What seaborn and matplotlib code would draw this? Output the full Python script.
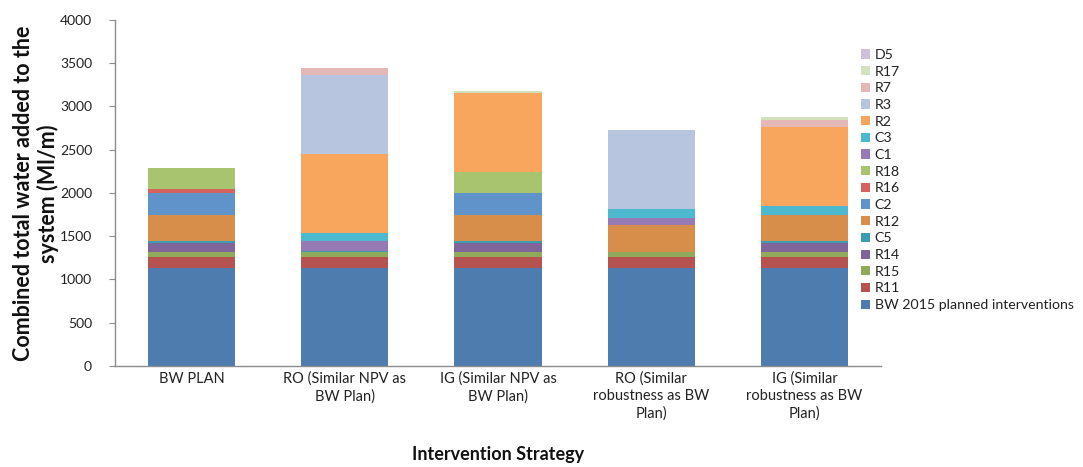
import matplotlib
matplotlib.use("Agg")
import matplotlib.pyplot as plt
from matplotlib.patches import Patch
import numpy as np
import pandas as pd
import seaborn as sns

# Strategies on the x axis
strategies = [
    "BW PLAN",
    "RO (Similar NPV as\nBW Plan)",
    "IG (Similar NPV as\nBW Plan)",
    "RO (Similar\nrobustness as BW\nPlan)",
    "IG (Similar\nrobustness as BW\nPlan)",
]

# Water added by each intervention (Ml/m), one value per strategy
bw_2015 = [1135, 1135, 1135, 1135, 1135]
r11 = [125, 125, 125, 125, 125]
r15 = [60, 60, 60, 60, 60]
r14 = [105, 0, 105, 0, 105]
c5 = [20, 15, 20, 0, 20]
r12 = [305, 0, 305, 310, 305]
c2 = [250, 0, 250, 0, 0]
r16 = [45, 0, 0, 0, 0]
r18 = [245, 0, 245, 0, 0]
c1 = [0, 105, 0, 85, 0]
c3 = [0, 100, 0, 100, 100]
r2 = [0, 910, 915, 0, 910]
r3 = [0, 915, 0, 915, 0]
r7 = [0, 80, 0, 0, 80]
r17 = [0, 0, 15, 0, 35]
d5 = [0, 0, 0, 0, 0]

series_names = ["BW 2015 planned interventions", "R11", "R15", "R14", "C5", "R12",
                "C2", "R16", "R18", "C1", "C3", "R2", "R3", "R7", "R17", "D5"]
series_values = [bw_2015, r11, r15, r14, c5, r12, c2, r16, r18, c1, c3, r2, r3, r7, r17, d5]
series_colors = ["#4E7CAE", "#B65350", "#91A95A", "#80659B", "#3A9DB2", "#D88E4B",
                 "#5F93CA", "#D6625E", "#A9C46F", "#977AB3", "#4DB9CF", "#F8A55D",
                 "#B7C5DF", "#E4B8B7", "#D3E1BC", "#CCC0DA"]

sns.set_theme(style="white")
plt.rcParams["font.family"] = ["Lato", "DejaVu Sans"]

# Long-form table with the running total of every stack level
rows = []
for name, vals in zip(series_names, series_values):
    for s, v in zip(strategies, vals):
        rows.append({"strategy": s, "series": name, "value": v})
df = pd.DataFrame(rows)
df["series"] = pd.Categorical(df["series"], categories=series_names, ordered=True)
df = df.sort_values(["strategy", "series"])
df["top"] = df.groupby("strategy", sort=False)["value"].cumsum()

fig = plt.figure(figsize=(10.83, 4.67), dpi=100)
ax = fig.add_axes([0.1062, 0.2163, 0.7073, 0.7409])

# Stacked bars: draw running totals from the highest level down so each
# lower level covers the part of the bar that belongs to it
for name, color in reversed(list(zip(series_names, series_colors))):
    sub = df[df["series"] == name]
    sns.barplot(data=sub, x="strategy", y="top", order=strategies, color=color,
                saturation=1, width=0.57, errorbar=None, linewidth=0, ax=ax)

ax.set_xlim(-0.5, len(strategies) - 0.5)
ax.set_ylim(0, 4000)
ax.set_yticks(np.arange(0, 4001, 500))
ax.set_xlabel("")
ax.set_ylabel("")
for side in ("top", "right"):
    ax.spines[side].set_visible(False)
for side in ("left", "bottom"):
    ax.spines[side].set_color("#8C8C8C")
    ax.spines[side].set_linewidth(1.0)
ax.tick_params(axis="y", left=True, length=4.5, width=0.8, color="#8C8C8C",
               pad=12, labelsize=10, labelcolor="#222222")
ax.tick_params(axis="x", bottom=False, length=0, pad=4, labelsize=10.5,
               labelcolor="#222222")
for lbl in ax.get_xticklabels():
    lbl.set_linespacing(1.3)

fig.text(36 / 1083, 0.585, "Combined total water added to the\nsystem (Ml/m)",
         rotation=90, ha="center", va="center", fontsize=15.5, fontweight="bold",
         linespacing=1.17, color="#111111")
fig.text(498 / 1083, 0.027, "Intervention Strategy", ha="center", va="center",
         fontsize=13, fontweight="bold", color="#111111")

handles = [Patch(facecolor=c, edgecolor="none") for c in series_colors]
leg = fig.legend(handles[::-1], series_names[::-1], loc="upper left",
                 bbox_to_anchor=(861 / 1083, (467 - 49) / 467), frameon=False,
                 fontsize=10.2, handlelength=0.62, handleheight=0.62,
                 handletextpad=0.35, labelspacing=0.33, borderpad=0,
                 borderaxespad=0)
for t in leg.get_texts():
    t.set_color("#222222")

fig.savefig("out.png", dpi=100)
